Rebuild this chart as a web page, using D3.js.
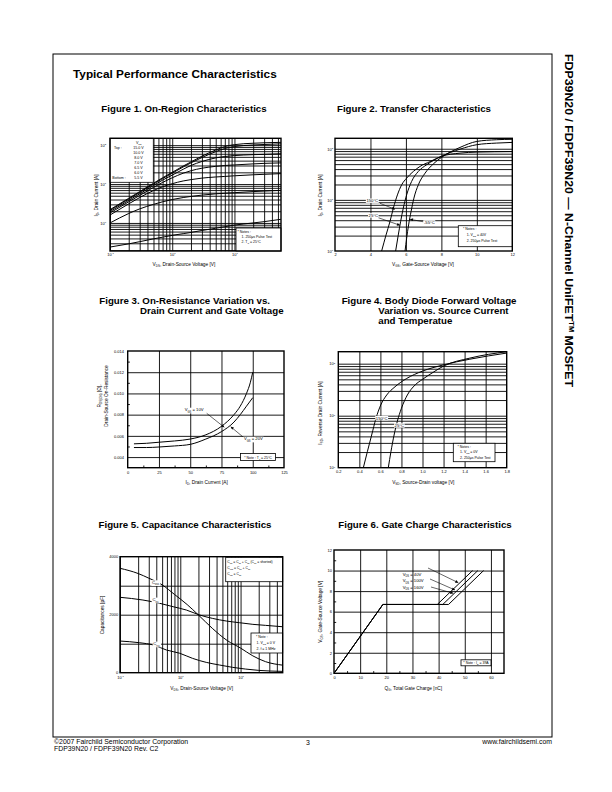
<!DOCTYPE html>
<html><head><meta charset="utf-8">
<script src="https://cdn.jsdelivr.net/npm/d3@7"></script>
<style>
body{margin:0;background:#fff}
svg{display:block;font-family:"Liberation Sans",Arial,sans-serif}
.grid line{stroke:#000;stroke-width:0.9}
.grid path{display:none}
</style></head><body>
<svg id="c" width="612" height="792"></svg>
<script>
// ---------------- DATA ----------------
// Figure 1: On-Region characteristics (VDS [V] vs ID [A])
const fig1Vgs = ["15.0 V","10.0 V","8.0 V","7.0 V","6.5 V","6.0 V","5.5 V"];
const fig1Vds = [0.1,0.2,0.3,0.5,0.7,1,1.5,2,3,5,7,10,20,30,56];
const fig1Id15  = [2.2,4.3,6.4,10.5,14.5,20,29,37,52,75,92,103,112,115,118];
const fig1Id10  = [2.1,4.1,6.1,10,13.8,19,27.5,35,48,68,82,92,101,104,108];
const fig1Id8   = [1.95,3.8,5.6,9.2,12.6,17,24,30,38,47,51,54,57,58,60];
const fig1Id7   = [1.8,3.5,5.1,8.2,11,14.5,19,22,25.5,28.5,30,31,33,34,35];
const fig1Id65  = [1.6,3.1,4.5,6.8,8.5,10.2,12,13,14.2,15.2,15.7,16.3,17.3,17.8,18.5];
const fig1Id6   = [1.0,1.75,2.3,3.0,3.5,4.0,4.5,4.8,5.2,5.6,5.8,6.0,6.4,6.6,6.9];
const fig1Id55  = [0.24,0.29,0.33,0.39,0.43,0.48,0.53,0.57,0.64,0.73,0.8,0.88,1.0,1.08,1.24];
const fig1XTicks = [0.1,1,10];
const fig1XLabels = ["10^{-1}","10^{0}","10^{1}"];
const fig1YTicks = [1,10,100];
const fig1YLabels = ["10^{0}","10^{1}","10^{2}"];

// Figure 2: Transfer characteristics (VGS [V] vs ID [A])
const fig2Temps = ["150°C","25°C","-55°C"];
const fig2Vgs150 = [4.63,4.88,5.10,5.29,5.52,5.76,6.04,6.42,6.79,7.36,8.0,9.05,10.0,12.0];
const fig2Id150  = [1,2.06,3.76,6.85,12.5,19.7,26.6,36,45,56,71,82,86,88];
const fig2Vgs25  = [5.42,5.57,5.70,5.85,6.04,6.32,6.70,7.17,8.0,9.05,10.0,11.1,12.0];
const fig2Id25   = [1,2.06,3.76,6.85,12.5,22.9,36,48.6,71,98,120,129,133];
const fig2VgsM55 = [5.95,6.04,6.15,6.29,6.45,6.70,7.08,7.55,8.0,9.05,10.0,11.1,12.0];
const fig2IdM55  = [1,1.77,3.23,5.9,10.8,19.7,33.3,50.6,67.6,106,139,150,153];
const fig2XTicks = [2,4,6,8,10,12];
const fig2YTicks = [1,10,100];
const fig2YLabels = ["10^{0}","10^{1}","10^{2}"];

// Figure 3: RDS(on) vs ID
const fig3Id     = [5,15,25,37.5,50,62.5,75,85,90,95,98,100];
const fig3R10    = [0.00525,0.0053,0.0054,0.00552,0.0057,0.0061,0.0069,0.0080,0.0088,0.0100,0.0110,0.0120];
const fig3Id20   = [5,15,25,37.5,50,62.5,75,85,90,95,100];
const fig3R20    = [0.0049,0.0049,0.00495,0.00505,0.0052,0.0057,0.0064,0.0073,0.0080,0.0088,0.0096];
const fig3XTicks = [0,25,50,75,100,125];
const fig3YTicks = [0.004,0.006,0.008,0.010,0.012,0.014];

// Figure 4: Body diode forward voltage
const fig4V150 = [0.438,0.476,0.517,0.558,0.603,0.66,0.739,0.85,1.0,1.2,1.45,1.8];
const fig4I150 = [1,2.03,4.25,8.9,16,25,36,52,72,95,122,160];
const fig4V25  = [0.675,0.70,0.73,0.76,0.80,0.856,0.93,1.0,1.1,1.2,1.45,1.8];
const fig4I25  = [1,2.03,4.25,7.7,13.9,25,39,50,68,90,128,170];
const fig4XTicks = [0.2,0.4,0.6,0.8,1.0,1.2,1.4,1.6,1.8];
const fig4YTicks = [1,10,100];
const fig4YLabels = ["10^{0}","10^{1}","10^{2}"];

// Figure 5: Capacitance
const fig5VCoss = [0.1,0.2,0.3,0.5,0.8,1.3,2,3.4,6,10,16,26,50];
const fig5Coss  = [3600,3420,3260,3030,2700,2350,1990,1530,1110,850,580,380,260];
const fig5VCiss = [0.1,0.24,0.46,0.76,1.26,2.1,3.4,5.8,9.6,16,26,49];
const fig5Ciss  = [2600,2506,2391,2276,2161,1989,1874,1782,1724,1667,1632,1586];
const fig5VCrss = [0.1,0.21,0.36,0.59,0.98,1.6,2.7,4.5,7.4,12,20,49];
const fig5Crss  = [1092,1034,954,782,670,494,356,264,184,126,80,46];
const fig5XTicks = [0.1,1,10];
const fig5XLabels = ["10^{-1}","10^{0}","10^{1}"];
const fig5YTicks = [0,2000,4000];

// Figure 6: Gate charge
const fig6Vds = ["40V","100V","160V"];
const fig6Q40  = [0,18.7,39.5,53.0];
const fig6Q100 = [0,18.7,41.6,55.0];
const fig6Q160 = [0,18.7,43.8,57.2];
const fig6Vg   = [0,6.7,6.7,10];
const fig6XTicks = [0,10,20,30,40,50,60];
const fig6YTicks = [0,2,4,6,8,10,12];

// ---------------- HELPERS ----------------
const svg = d3.select("#c");
svg.append("rect").attr("width",612).attr("height",792).attr("fill","#fff");
const defs = svg.append("defs");
defs.append("marker").attr("id","arr").attr("viewBox","0 0 10 10").attr("refX",10).attr("refY",5)
  .attr("markerWidth",4).attr("markerHeight",3).attr("markerUnits","userSpaceOnUse").attr("orient","auto")
  .append("path").attr("d","M0,0L10,5L0,10z").attr("fill","#000");

function rich(sel, str, size){
  sel.text(null);
  const re = /([_^])\{([^}]*)\}/g;
  let last=0, m; const parts=[];
  while((m=re.exec(str))){
    if(m.index>last) parts.push({t:str.slice(last,m.index),k:0});
    parts.push({t:m[2],k:m[1]==="_"?1:-1});
    last=re.lastIndex;
  }
  if(last<str.length) parts.push({t:str.slice(last),k:0});
  let cur=0;
  parts.forEach(p=>{
    const target = p.k===1? size*0.3 : p.k===-1? -size*0.4 : 0;
    const ts = sel.append("tspan").text(p.t);
    if(Math.abs(target-cur)>1e-6) ts.attr("dy", (target-cur).toFixed(2));
    if(p.k!==0) ts.attr("font-size", (size*0.62).toFixed(2));
    cur=target;
  });
}
function txt(g,x,y,str,size,o={}){
  const t=g.append("text").attr("x",x).attr("y",y).attr("font-size",size).attr("fill","#000");
  if(o.anchor) t.attr("text-anchor",o.anchor);
  if(o.bold) t.attr("font-weight","bold");
  if(o.rotate) t.attr("transform",`rotate(${o.rotate},${x},${y})`);
  rich(t,str,size);
  return t;
}
function box(g,x,y,w,h){
  g.append("rect").attr("x",x).attr("y",y).attr("width",w).attr("height",h)
   .attr("fill","#fff").attr("stroke","#000").attr("stroke-width",0.8);
}
function blabel(g,x,y,str,size){
  const t=txt(g,x,y,str,size,{anchor:"middle"});
  const b=t.node().getBBox();
  g.insert("rect",()=>t.node()).attr("x",b.x-0.6).attr("y",b.y+0.3).attr("width",b.width+1.2).attr("height",b.height-0.6).attr("fill","#fff");
  return t;
}
function arrow(g,x1,y1,x2,y2){
  g.append("line").attr("x1",x1).attr("y1",y1).attr("x2",x2).attr("y2",y2)
   .attr("stroke","#000").attr("stroke-width",0.6).attr("marker-end","url(#arr)");
}
function styleAxis(a,size){
  a.attr("font-size",null).attr("font-family",null);
  a.select(".domain").remove();
  a.selectAll(".tick text").attr("font-size",size).each(function(){
    const s=d3.select(this); rich(s, s.text(), size);
  });
}
let clipN=0;
function panel(c){
  const g=svg.append("g");
  const [x0,x1]=c.x.range(), [y1,y0]=c.y.range();
  const id="clip"+(clipN++);
  defs.append("clipPath").attr("id",id).append("rect").attr("x",x0).attr("y",y0).attr("width",x1-x0).attr("height",y1-y0);
  const gg=g.append("g").attr("clip-path",`url(#${id})`);
  gg.append("g").attr("class","grid").attr("transform",`translate(0,${y1})`)
    .call(d3.axisBottom(c.x).tickValues(c.xgrid).tickSize(-(y1-y0)).tickFormat(""));
  gg.append("g").attr("class","grid").attr("transform",`translate(${x0},0)`)
    .call(d3.axisLeft(c.y).tickValues(c.ygrid).tickSize(-(x1-x0)).tickFormat(""));
  if(c.xminor) gg.append("g").attr("class","grid").attr("transform",`translate(0,${y1})`)
    .call(d3.axisBottom(c.x).tickValues(c.xminor).tickSize(-2.2).tickFormat(""));
  if(c.yminor) gg.append("g").attr("class","grid").attr("transform",`translate(${x0},0)`)
    .call(d3.axisLeft(c.y).tickValues(c.yminor).tickSize(-2.2).tickFormat(""));
  const xa=g.append("g").attr("transform",`translate(0,${y1})`)
    .call(d3.axisBottom(c.x).tickValues(c.xticks).tickSize(0).tickPadding(c.xpad).tickFormat(c.xfmt));
  styleAxis(xa,c.ts||4);
  const ya=g.append("g").attr("transform",`translate(${x0},0)`)
    .call(d3.axisLeft(c.y).tickValues(c.yticks).tickSize(0).tickPadding(c.ypad).tickFormat(c.yfmt));
  styleAxis(ya,c.ts||4);
  const cg=g.append("g").attr("clip-path",`url(#${id})`);
  const line=d3.line().x(d=>c.x(d[0])).y(d=>c.y(d[1])).curve(c.curve||d3.curveMonotoneX);
  c.series.forEach(s=>{
    cg.append("path").datum(d3.zip(s[0],s[1])).attr("d",line)
      .attr("fill","none").attr("stroke","#000").attr("stroke-width",c.sw||1.0);
  });
  const over=g.append("g");
  const frame=()=>g.append("rect").attr("x",x0).attr("y",y0).attr("width",x1-x0).attr("height",y1-y0)
      .attr("fill","none").attr("stroke","#000").attr("stroke-width",1.4);
  return {g:over,frame};
}
const supFmt=(vals,labs)=>d=>labs[vals.indexOf(d)];
const FT=9.7; // figure title size

// ---------------- PAGE ----------------
svg.append("rect").attr("x",53).attr("y",54).attr("width",499).attr("height",683)
  .attr("fill","none").attr("stroke","#000").attr("stroke-width",1);
txt(svg,73,78,"Typical Performance Characteristics",11.8,{bold:true});
const side=svg.append("text").attr("x",565).attr("y",54).attr("font-size",11.5).attr("font-weight","bold")
  .attr("transform","rotate(90,565,54)").attr("textLength",333).attr("lengthAdjust","spacingAndGlyphs");
side.append("tspan").text("FDP39N20 / FDPF39N20 — N-Channel UniFET");
side.append("tspan").attr("dy",-4).attr("font-size",7).text("TM");
side.append("tspan").attr("dy",4).text(" MOSFET");
txt(svg,54,744,"©2007 Fairchild Semiconductor Corporation",6.9);
txt(svg,54,750.5,"FDP39N20 / FDPF39N20 Rev. C2",6.9);
txt(svg,308,744.5,"3",6.9,{anchor:"middle"});
txt(svg,552,744,"www.fairchildsemi.com",6.9,{anchor:"end"});

// ---------------- FIGURE 1 ----------------
{
  txt(svg,184,112,"Figure 1. On-Region Characteristics",FT,{anchor:"middle",bold:true});
  const x=d3.scaleLog().domain([0.1,56]).range([110,281]);
  const y=d3.scaleLog().domain([0.19,150]).range([251,138.3]);
  const p=panel({x,y,xgrid:x.ticks(),ygrid:y.ticks(),xticks:fig1XTicks,xfmt:supFmt(fig1XTicks,fig1XLabels),
    yticks:fig1YTicks,yfmt:supFmt(fig1YTicks,fig1YLabels),xpad:2.2,ypad:4,
    series:[[fig1Vds,fig1Id15],[fig1Vds,fig1Id10],[fig1Vds,fig1Id8],[fig1Vds,fig1Id7],[fig1Vds,fig1Id65],[fig1Vds,fig1Id6],[fig1Vds,fig1Id55]]});
  box(p.g,110,138.3,43.3,44);
  txt(p.g,138.7,143.5,"V_{GS}",3.6,{anchor:"middle"});
  txt(p.g,114,149,"Top :",3.6);
  txt(p.g,112.3,179,"Bottom :",3.6);
  fig1Vgs.forEach((v,i)=>txt(p.g,138.5,149+i*5,v,3.6,{anchor:"middle"}));
  box(p.g,236,228,45,23);
  txt(p.g,237.5,232.6,"* Notes :",3.5);
  txt(p.g,241.5,237.8,"1. 250μs Pulse Test",3.5);
  txt(p.g,241.5,243.2,"2. T_{C} = 25°C",3.5);
  p.frame();
  txt(svg,98,195.5,"I_{D}, Drain Current [A]",4.8,{anchor:"middle",rotate:-90});
  txt(svg,184,265.8,"V_{DS}, Drain-Source Voltage [V]",4.8,{anchor:"middle"});
}
// ---------------- FIGURE 2 ----------------
{
  txt(svg,414,112,"Figure 2. Transfer Characteristics",FT,{anchor:"middle",bold:true});
  const x=d3.scaleLinear().domain([2,12]).range([335,512.3]);
  const y=d3.scaleLog().domain([1,160]).range([251,138.3]);
  const p=panel({x,y,xgrid:[4,6,8,10],ygrid:y.ticks(),xticks:fig2XTicks,xfmt:d3.format("d"),
    yticks:fig2YTicks,yfmt:supFmt(fig2YTicks,fig2YLabels),xpad:2.2,ypad:2,
    series:[[fig2Vgs150,fig2Id150],[fig2Vgs25,fig2Id25],[fig2VgsM55,fig2IdM55]]});
  arrow(p.g,380,203.3,395,209.3);
  arrow(p.g,378.3,217.7,400,225.3);
  arrow(p.g,423.5,221.8,410,219.3);
  blabel(p.g,372.3,202.2,fig2Temps[0],4.2);
  blabel(p.g,373.3,216.9,fig2Temps[1],4.2);
  blabel(p.g,429.3,223.9,fig2Temps[2],4.2);
  box(p.g,458.3,225.7,54,21);
  txt(p.g,463,229.8,"* Notes :",3.5);
  txt(p.g,466.7,235.6,"1. V_{DS} = 40V",3.5);
  txt(p.g,466.7,241.8,"2. 250μs Pulse Test",3.5);
  p.frame();
  txt(svg,322,195.5,"I_{D}, Drain Current [A]",4.8,{anchor:"middle",rotate:-90});
  txt(svg,423,265.8,"V_{GS}, Gate-Source Voltage [V]",4.8,{anchor:"middle"});
}
// ---------------- FIGURE 3 ----------------
{
  txt(svg,99.3,304.3,"Figure 3. On-Resistance Variation vs.",FT,{bold:true});
  txt(svg,140,314.3,"Drain Current and Gate Voltage",FT,{bold:true});
  const x=d3.scaleLinear().domain([0,125]).range([127.7,284]);
  const y=d3.scaleLinear().domain([0.003,0.014]).range([467.7,351]);
  const p=panel({x,y,xgrid:[25,50,75,100],ygrid:[0.004,0.006,0.008,0.010,0.012],
    xminor:[12.5,37.5,62.5,87.5,112.5],yminor:[0.005,0.007,0.009,0.011,0.013],
    xticks:fig3XTicks,xfmt:d3.format("d"),yticks:fig3YTicks,yfmt:d3.format(".3f"),xpad:3,ypad:3.7,
    series:[[fig3Id,fig3R10],[fig3Id20,fig3R20]]});
  arrow(p.g,206.7,413.3,224.3,427.3);
  arrow(p.g,242.7,436.7,230.7,426.7);
  blabel(p.g,194.2,411.4,"V_{GS} = 10V",4.2);
  blabel(p.g,253.4,440.4,"V_{GS} = 20V",4.2);
  box(p.g,240.5,453.5,35,7);
  txt(p.g,258,458.6,"* Note : T_{J} = 25°C",3.5,{anchor:"middle"});
  p.frame();
  txt(svg,101,396,"R_{DS(ON)} [Ω],",4.8,{anchor:"middle",rotate:-90});
  txt(svg,108.4,396,"Drain-Source On-Resistance",4.8,{anchor:"middle",rotate:-90});
  txt(svg,206.7,483.5,"I_{D}, Drain Current [A]",4.8,{anchor:"middle"});
}
// ---------------- FIGURE 4 ----------------
{
  txt(svg,341.7,304.3,"Figure 4. Body Diode Forward Voltage",FT,{bold:true});
  txt(svg,378.3,314.3,"Variation vs. Source Current",FT,{bold:true});
  txt(svg,378.3,324.3,"and Temperatue",FT,{bold:true});
  const x=d3.scaleLinear().domain([0.2,1.8]).range([338.3,506.7]);
  const y=d3.scaleLog().domain([1,170]).range([467.7,351.7]);
  const p=panel({x,y,xgrid:[0.4,0.6,0.8,1.0,1.2,1.4,1.6],ygrid:y.ticks(),
    xticks:fig4XTicks,xfmt:d3.format(".1f"),yticks:fig4YTicks,yfmt:supFmt(fig4YTicks,fig4YLabels),xpad:2.5,ypad:3.3,
    series:[[fig4V150,fig4I150],[fig4V25,fig4I25]]});
  blabel(p.g,381.7,419.6,"150°C",4.2);
  blabel(p.g,399.3,427,"25°C",4.2);
  box(p.g,453.3,443.3,41.7,18.4);
  txt(p.g,457.5,447.6,"* Notes :",3.5);
  txt(p.g,460,453.3,"1. V_{GS} = 0V",3.5);
  txt(p.g,460,458.8,"2. 250μs Pulse Test",3.5);
  p.frame();
  txt(svg,321.7,413,"I_{SD}, Reverse Drain Current [A]",4.8,{anchor:"middle",rotate:-90});
  txt(svg,423.3,483.5,"V_{SD}, Source-Drain voltage [V]",4.8,{anchor:"middle"});
}
// ---------------- FIGURE 5 ----------------
{
  txt(svg,185,528.3,"Figure 5. Capacitance Characteristics",FT,{anchor:"middle",bold:true});
  const x=d3.scaleLog().domain([0.1,50]).range([120,282.7]);
  const y=d3.scaleLinear().domain([0,4000]).range([672.7,556.7]);
  const p=panel({x,y,xgrid:x.ticks(),ygrid:[1000,2000,3000],
    xticks:fig5XTicks,xfmt:supFmt(fig5XTicks,fig5XLabels),yticks:fig5YTicks,yfmt:d3.format("d"),xpad:3,ypad:1.8,
    series:[[fig5VCoss,fig5Coss],[fig5VCiss,fig5Ciss],[fig5VCrss,fig5Crss]]});
  blabel(p.g,155.5,584,"C_{oss}",4.2);
  blabel(p.g,155.5,601.3,"C_{iss}",4.2);
  blabel(p.g,156.5,645.3,"C_{rss}",4.2);
  box(p.g,225.7,557.3,57,24.4);
  txt(p.g,227.3,562.8,"C_{iss} = C_{gs} + C_{gd} (C_{ds} = shorted)",3.4);
  txt(p.g,227.3,568.6,"C_{oss} = C_{ds} + C_{gd}",3.4);
  txt(p.g,227.3,574.6,"C_{rss} = C_{gd}",3.4);
  box(p.g,251,633,31.7,20);
  txt(p.g,256,638.4,"* Note :",3.5);
  txt(p.g,256.5,644.3,"1. V_{GS} = 0 V",3.5);
  txt(p.g,256.5,650.3,"2. f = 1 MHz",3.5);
  p.frame();
  txt(svg,104,615,"Capacitances [pF]",4.8,{anchor:"middle",rotate:-90});
  txt(svg,201.7,690,"V_{DS}, Drain-Source Voltage [V]",4.8,{anchor:"middle"});
}
// ---------------- FIGURE 6 ----------------
{
  txt(svg,425,528.3,"Figure 6. Gate Charge Characteristics",FT,{anchor:"middle",bold:true});
  const x=d3.scaleLinear().domain([0,65]).range([334,504]);
  const y=d3.scaleLinear().domain([0,12]).range([673.3,550]);
  const p=panel({x,y,xgrid:[10,20,30,40,50,60],ygrid:[2,4,6,8,10],
    xminor:[5,15,25,35,45,55],yminor:[1,3,5,7,9,11],
    xticks:fig6XTicks,xfmt:d3.format("d"),yticks:fig6YTicks,yfmt:d3.format("d"),xpad:3,ypad:2,
    curve:d3.curveLinear,sw:1.0,
    series:[[fig6Q40,fig6Vg],[fig6Q100,fig6Vg],[fig6Q160,fig6Vg]]});
  txt(p.g,402.7,575.6,"V_{DS} = "+fig6Vds[0],4.2);
  txt(p.g,402.7,582.3,"V_{DS} = "+fig6Vds[1],4.2);
  txt(p.g,402.7,589,"V_{DS} = "+fig6Vds[2],4.2);
  arrow(p.g,428,568,458.3,582.7);
  arrow(p.g,430,579,455,590);
  arrow(p.g,431,587,453.3,593.3);
  box(p.g,461,659.8,30,6);
  txt(p.g,476,664,"* Note : I_{D} = 39A",3.5,{anchor:"middle"});
  p.frame();
  txt(svg,321.7,611.7,"V_{GS}, Gate-Source Voltage [V]",4.8,{anchor:"middle",rotate:-90});
  txt(svg,413.3,690,"Q_{G}, Total Gate Charge [nC]",4.8,{anchor:"middle"});
}
</script>
</body></html>
